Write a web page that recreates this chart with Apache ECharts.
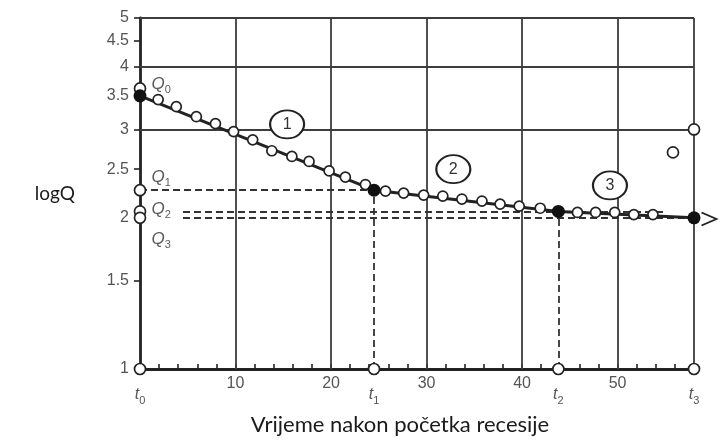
<!DOCTYPE html>
<html>
<head>
<meta charset="utf-8">
<script src="https://cdn.jsdelivr.net/npm/echarts@6/dist/echarts.min.js"></script>
<style>
  html, body { margin: 0; background: #fff; }
  #chart { width: 720px; height: 441px; }
</style>
</head>
<body>
<div id="chart"></div>
<script>
// podaci očitani sa slike (Q na log skali)
const pointT = [1.9, 3.8, 5.9, 7.9, 9.8, 11.8, 13.8, 15.9, 17.7, 19.8, 21.5, 23.6, 25.7, 27.6, 29.7, 31.7, 33.7, 35.8, 37.7, 39.7, 41.9, 45.8, 47.7, 49.7, 51.7, 53.7]
const pointQ = [3.44, 3.33, 3.18, 3.08, 2.97, 2.86, 2.72, 2.65, 2.59, 2.48, 2.41, 2.33, 2.26, 2.24, 2.22, 2.21, 2.18, 2.16, 2.13, 2.11, 2.09, 2.05, 2.05, 2.05, 2.03, 2.03]

// prijelomne točke t0..t3 i Q0..Q3
const breakT = [0, 24.5, 43.8, 58]
const breakQ = [3.5, 2.27, 2.06, 2.0]
const arrowT = 60.2
const arrowQ = 1.99

// prazni kružići na osima i izdvojene točke
const axisCircleQ = [3.62, 2.27, 2.06, 2.0, 1]
const strayT = [58, 55.8]
const strayQ = [3.0, 2.7]

// oznake Q0..Q3
const qLabels = ['0', '1', '2', '3']
const qLabelT = [1.2, 1.2, 1.2, 1.2]
const qLabelQ = [3.69, 2.41, 2.08, 1.81]

// zaokružene oznake segmenata
const segLabels = ['1', '2', '3']
const segT = [15.4, 32.8, 49.2]
const segQ = [3.07, 2.5, 2.32]

// osi
const yTicks = [1, 1.5, 2, 2.5, 3, 3.5, 4, 4.5, 5]
const xTicks = [0, 10, 20, 24.5, 30, 40, 43.8, 50, 58]
const xTickText = ['t0', '10', '20', 't1', '30', '40', 't2', '50', 't3']
const xMinorTicks = [0, 2, 4, 6, 8, 10, 12, 14, 16, 18, 20, 22, 24, 26, 28, 30, 32, 34, 36, 38, 40, 42, 44, 46, 48, 50, 52, 54, 56, 58]
const xGrid = [10, 20, 30, 40, 50, 58]
const yGrid = [3, 4, 5]

const L = v => Math.log10(v)
const dark = '#222'
const gridColor = '#3d3d3d'
const labelColor = '#555'

const chart = echarts.init(document.getElementById('chart'))

const gridLines = []
xGrid.forEach(x => gridLines.push([{ coord: [x, L(1)] }, { coord: [x, L(5)] }]))
yGrid.forEach(q => gridLines.push([{ coord: [0, L(q)] }, { coord: [58, L(q)] }]))

const dashLines = [
  [{ coord: [breakT[0], L(breakQ[1])] }, { coord: [breakT[1], L(breakQ[1])] }],
  [{ coord: [4.5, L(breakQ[2])] }, { coord: [55, L(breakQ[2])] }],
  [{ coord: [4.5, L(breakQ[3])] }, { coord: [breakT[3], L(breakQ[3])] }],
  [{ coord: [breakT[1], L(1)] }, { coord: [breakT[1], L(breakQ[1])] }],
  [{ coord: [breakT[2], L(1)] }, { coord: [breakT[2], L(breakQ[2])] }]
]

const openCircle = {
  symbol: 'circle',
  symbolSize: 10,
  itemStyle: { color: '#fff', borderColor: dark, borderWidth: 1.7, opacity: 1 }
}

chart.setOption({
  backgroundColor: '#fff',
  animation: false,
  grid: { left: 140, right: 26, top: 18, bottom: 72 },
  xAxis: {
    type: 'value',
    min: 0,
    max: 58,
    name: 'Vrijeme nakon početka recesije',
    nameLocation: 'middle',
    nameGap: 45,
    nameTextStyle: { fontFamily: 'Lato', fontSize: 22, color: '#1a1a1a', padding: [0, 34, 0, 0] },
    axisLine: { lineStyle: { color: dark, width: 2.8 } },
    axisTick: { inside: true, length: 5, customValues: xMinorTicks, lineStyle: { color: dark, width: 1.6 } },
    splitLine: { show: false },
    axisLabel: {
      customValues: xTicks,
      margin: 7,
      color: labelColor,
      fontFamily: 'Liberation Sans',
      fontSize: 16,
      formatter: v => {
        const s = xTickText[xTicks.indexOf(v)] || ''
        return s[0] === 't' ? '{t|t}{s|' + s.slice(1) + '}' : s
      },
      rich: {
        t: { fontFamily: 'Liberation Sans', fontStyle: 'italic', fontSize: 16, color: labelColor, padding: [8, 0, 0, 0] },
        s: { fontFamily: 'Liberation Sans', fontSize: 11, color: labelColor, padding: [19, 0, 0, 0] }
      }
    }
  },
  yAxis: {
    type: 'value',
    min: 0,
    max: L(5),
    name: 'logQ',
    nameLocation: 'middle',
    nameRotate: 0,
    nameGap: 65,
    nameTextStyle: { fontFamily: 'Lato', fontSize: 19, color: '#1a1a1a', padding: [0, 0, 38, 0] },
    axisLine: { lineStyle: { color: dark, width: 2.8 } },
    axisTick: { inside: false, length: 6, customValues: yTicks.map(L), lineStyle: { color: dark, width: 1.6 } },
    splitLine: { show: false },
    axisLabel: {
      customValues: yTicks.map(L),
      margin: 11,
      color: labelColor,
      fontFamily: 'Liberation Sans',
      fontSize: 16,
      formatter: v => String(Number(Math.pow(10, v).toFixed(1)))
    }
  },
  series: [
    {
      // mreža i isprekidane linije
      type: 'line',
      data: [],
      silent: true,
      markLine: {
        z: 1,
        silent: true,
        symbol: ['none', 'none'],
        label: { show: false },
        emphasis: { disabled: true },
        data: gridLines.map(d => [{ ...d[0], lineStyle: { color: gridColor, width: 1.8, type: 'solid' } }, d[1]])
          .concat(dashLines.map(d => [{ ...d[0], lineStyle: { color: '#333', width: 1.8, type: [7, 4] } }, d[1]]))
      }
    },
    {
      // recesijska krivulja
      type: 'line',
      z: 3,
      clip: false,
      symbol: 'none',
      lineStyle: { color: dark, width: 3 },
      data: breakT.map((t, i) => [t, L(breakQ[i])]).concat([[arrowT, L(arrowQ)]])
    },
    {
      // strelica
      type: 'scatter',
      z: 3,
      clip: false,
      symbol: 'path://M0,0 L10,5 L0,10',
      symbolSize: [15, 13],
      symbolOffset: [-6, 0],
      itemStyle: { color: 'none', borderColor: dark, borderWidth: 1.8, opacity: 1 },
      data: [[arrowT, L(arrowQ)]]
    },
    {
      // mjerene točke
      type: 'scatter',
      z: 4,
      ...openCircle,
      data: pointT.map((t, i) => [t, L(pointQ[i])])
    },
    {
      // kružići na osima
      type: 'scatter',
      z: 4,
      clip: false,
      ...openCircle,
      symbolSize: 11,
      data: axisCircleQ.map(q => [0, L(q)])
        .concat(breakT.slice(1).map(t => [t, L(1)]))
        .concat(strayT.map((t, i) => [t, L(strayQ[i])]))
    },
    {
      // prijelomne točke
      type: 'scatter',
      z: 5,
      clip: false,
      symbol: 'circle',
      symbolSize: 13,
      itemStyle: { color: '#111', opacity: 1 },
      data: breakT.map((t, i) => [t, L(breakQ[i])])
    },
    {
      // oznake Q
      type: 'scatter',
      z: 5,
      symbolSize: 0,
      label: {
        show: true,
        position: 'right',
        distance: 0,
        formatter: p => '{q|Q}{s|' + qLabels[p.dataIndex] + '}',
        rich: {
          q: { fontFamily: 'Liberation Sans', fontStyle: 'italic', fontSize: 17, color: '#333' },
          s: { fontFamily: 'Liberation Sans', fontSize: 11, color: '#333', padding: [11, 0, 0, 0] }
        }
      },
      data: qLabelT.map((t, i) => [t, L(qLabelQ[i])])
    },
    {
      // zaokruženi brojevi segmenata
      type: 'scatter',
      z: 5,
      symbol: 'path://M0,10 A10,10 0 1,1 20,10 A10,10 0 1,1 0,10 Z',
      symbolSize: [34, 28],
      itemStyle: { color: '#fff', borderColor: dark, borderWidth: 2, opacity: 1 },
      label: {
        show: true,
        position: 'inside',
        fontFamily: 'Liberation Sans',
        fontSize: 16,
        color: '#333',
        formatter: p => segLabels[p.dataIndex]
      },
      data: segT.map((t, i) => [t, L(segQ[i])])
    }
  ]
})
</script>
</body>
</html>
